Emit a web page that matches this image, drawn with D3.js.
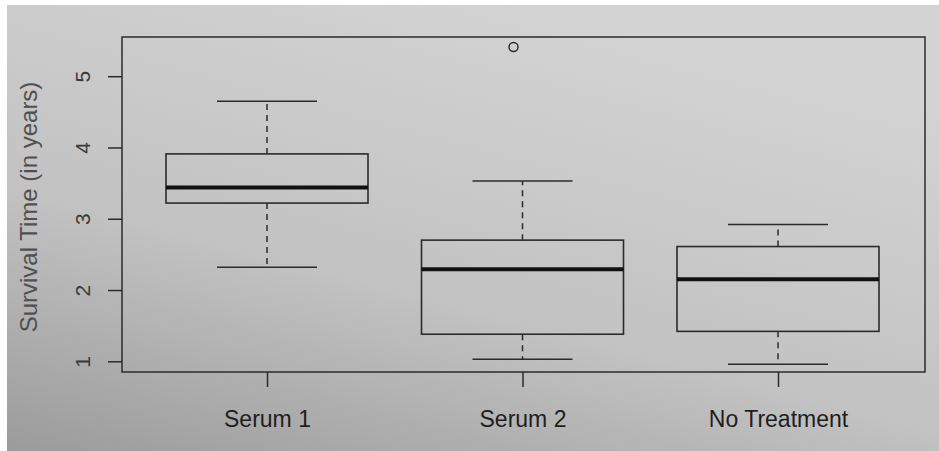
<!DOCTYPE html>
<html>
<head>
<meta charset="utf-8">
<script src="https://cdn.jsdelivr.net/npm/d3@7"></script>
<style>
  body { margin: 0; background: #ffffff; }
  text { font-family: "Liberation Sans", Arial, sans-serif; }
</style>
</head>
<body>
<div id="vis"></div>
<script>
// survival time boxplot (photographed R plot)
const FRAME_WIDTH = 939;
const FRAME_HEIGHT = 451;
const PLOT = {left: 122, right: 925, top: 37, bottom: 372};

// data
const categories = ["Serum 1", "Serum 2", "No Treatment"];
const whiskerLow = [2.32, 1.03, 0.96];
const q1 = [3.22, 1.38, 1.42];
const median = [3.44, 2.29, 2.15];
const q3 = [3.91, 2.70, 2.61];
const whiskerHigh = [4.65, 3.53, 2.92];
const outliers = [{group: "Serum 2", value: 5.41}];
const yTicks = [1, 2, 3, 4, 5];

const boxes = categories.map((c, i) => ({
  name: c, lo: whiskerLow[i], q1: q1[i], med: median[i], q3: q3[i], hi: whiskerHigh[i]
}));

const FRAME = d3.select("#vis")
  .append("svg")
    .attr("width", FRAME_WIDTH)
    .attr("height", FRAME_HEIGHT);

// paper background with shading
const defs = FRAME.append("defs");
const grad = defs.append("linearGradient")
  .attr("id", "paper")
  .attr("x1", "0").attr("y1", "1")
  .attr("x2", "0.55").attr("y2", "0");
grad.append("stop").attr("offset", "0%").attr("stop-color", "#9b9b9b");
grad.append("stop").attr("offset", "45%").attr("stop-color", "#c2c2c2");
grad.append("stop").attr("offset", "100%").attr("stop-color", "#d3d3d3");

FRAME.append("rect")
  .attr("x", 7).attr("y", 5)
  .attr("width", FRAME_WIDTH - 7).attr("height", FRAME_HEIGHT - 5)
  .attr("fill", "url(#paper)");

const Y_SCALE = d3.scaleLinear()
  .domain([0.85, 5.55])
  .range([PLOT.bottom, PLOT.top]);

const X_SCALE = d3.scalePoint()
  .domain(categories)
  .range([267, 778]);

const BOX_HALF = 101;
const CAP_HALF = 50;
const INK = "#2b2b2b";

// plot frame
FRAME.append("rect")
  .attr("x", PLOT.left).attr("y", PLOT.top)
  .attr("width", PLOT.right - PLOT.left)
  .attr("height", PLOT.bottom - PLOT.top)
  .attr("fill", "none")
  .attr("stroke", INK)
  .attr("stroke-width", 1.5);

// y axis
const yAxis = FRAME.append("g")
  .attr("transform", "translate(" + PLOT.left + ",0)")
  .call(d3.axisLeft(Y_SCALE).tickValues(yTicks).tickSize(14).tickFormat(d3.format("d")));
yAxis.select(".domain").remove();
yAxis.selectAll("line").attr("stroke", INK).attr("stroke-width", 1.5);
yAxis.selectAll("text")
  .attr("x", 0).attr("dy", "0.36em")
  .attr("transform", "translate(-40,0) rotate(-90)")
  .attr("text-anchor", "middle")
  .attr("font-size", 21)
  .attr("fill", "#3a3a3a");

// x axis
const xAxis = FRAME.append("g")
  .attr("transform", "translate(0," + PLOT.bottom + ")")
  .call(d3.axisBottom(X_SCALE).tickSize(15));
xAxis.select(".domain").remove();
xAxis.selectAll("line").attr("stroke", INK).attr("stroke-width", 1.5);
xAxis.selectAll("text")
  .attr("y", 47).attr("dy", "0.35em")
  .attr("font-size", 23)
  .attr("fill", "#1e1e1e");

// y title
FRAME.append("text")
  .attr("transform", "translate(29,207) rotate(-90)")
  .attr("text-anchor", "middle")
  .attr("dy", "0.35em")
  .attr("font-size", 24)
  .attr("fill", "#505050")
  .text("Survival Time (in years)");

const g = FRAME.append("g");

// whiskers (dashed)
g.selectAll(".whiskerUp")
  .data(boxes).enter().append("line")
    .attr("x1", d => X_SCALE(d.name)).attr("x2", d => X_SCALE(d.name))
    .attr("y1", d => Y_SCALE(d.q3)).attr("y2", d => Y_SCALE(d.hi))
    .attr("stroke", INK).attr("stroke-width", 1.5)
    .attr("stroke-dasharray", "6,5");
g.selectAll(".whiskerDown")
  .data(boxes).enter().append("line")
    .attr("x1", d => X_SCALE(d.name)).attr("x2", d => X_SCALE(d.name))
    .attr("y1", d => Y_SCALE(d.q1)).attr("y2", d => Y_SCALE(d.lo))
    .attr("stroke", INK).attr("stroke-width", 1.5)
    .attr("stroke-dasharray", "6,5");

// caps
["lo", "hi"].forEach(k => {
  g.selectAll(".cap-" + k)
    .data(boxes).enter().append("line")
      .attr("x1", d => X_SCALE(d.name) - CAP_HALF)
      .attr("x2", d => X_SCALE(d.name) + CAP_HALF)
      .attr("y1", d => Y_SCALE(d[k])).attr("y2", d => Y_SCALE(d[k]))
      .attr("stroke", INK).attr("stroke-width", 1.5);
});

// boxes
g.selectAll(".box")
  .data(boxes).enter().append("rect")
    .attr("x", d => X_SCALE(d.name) - BOX_HALF)
    .attr("width", BOX_HALF * 2)
    .attr("y", d => Y_SCALE(d.q3))
    .attr("height", d => Y_SCALE(d.q1) - Y_SCALE(d.q3))
    .attr("fill", "none")
    .attr("stroke", INK).attr("stroke-width", 1.6);

// medians
g.selectAll(".median")
  .data(boxes).enter().append("line")
    .attr("x1", d => X_SCALE(d.name) - BOX_HALF)
    .attr("x2", d => X_SCALE(d.name) + BOX_HALF)
    .attr("y1", d => Y_SCALE(d.med)).attr("y2", d => Y_SCALE(d.med))
    .attr("stroke", "#111111").attr("stroke-width", 4);

// outliers
g.selectAll(".outlier")
  .data(outliers).enter().append("circle")
    .attr("cx", d => X_SCALE(d.group) - 9)
    .attr("cy", d => Y_SCALE(d.value))
    .attr("r", 4.5)
    .attr("fill", "none")
    .attr("stroke", INK).attr("stroke-width", 1.5);
</script>
</body>
</html>
